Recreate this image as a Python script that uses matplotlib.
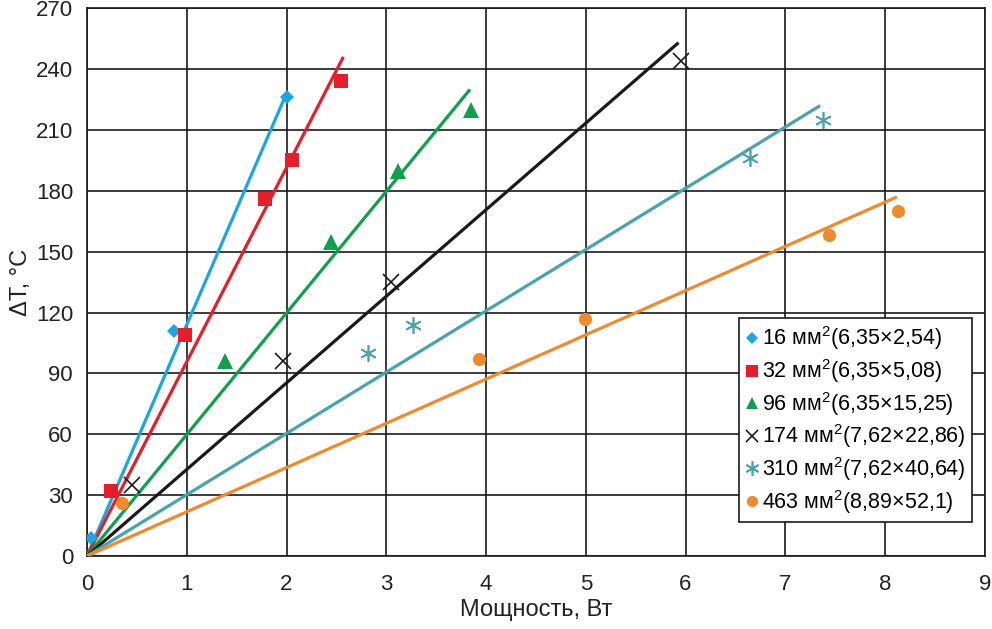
import numpy as np
import matplotlib
matplotlib.use("Agg")
import matplotlib.pyplot as plt

plt.rcParams["font.family"] = ["Liberation Sans", "DejaVu Sans"]
plt.rcParams["mathtext.fontset"] = "custom"
plt.rcParams["mathtext.rm"] = "Liberation Sans"

# -------------------------------------------------
# Data
# -------------------------------------------------
labels = [
    "16 мм$^2$(6,35×2,54)",
    "32 мм$^2$(6,35×5,08)",
    "96 мм$^2$(6,35×15,25)",
    "174 мм$^2$(7,62×22,86)",
    "310 мм$^2$(7,62×40,64)",
    "463 мм$^2$(8,89×52,1)",
]
colors = ["#1aa7e1", "#e41f2b", "#10a04c", "#1a1a1a", "#4aa3aa", "#f08a2e"]
markers = ["D", "s", "^", "x", (6, 2, 0), "o"]
marker_sizes = [7.5, 10.5, 11, 11, 12, 9.5]

p16 = [0.04, 0.87, 2.00]
t16 = [9, 111, 226]
p32 = [0.24, 0.98, 1.78, 2.06, 2.55]
t32 = [32, 109, 176, 195, 234]
p96 = [1.38, 2.45, 3.12, 3.85]
t96 = [96, 155, 190, 220]
p174 = [0.45, 1.96, 3.05, 5.95]
t174 = [35, 96, 135, 244]
p310 = [2.82, 3.27, 6.65, 7.38]
t310 = [100, 114, 196, 215]
p463 = [0.35, 3.93, 4.99, 7.44, 8.13]
t463 = [26, 97, 117, 158, 170]

# fitted lines through the origin: end power and end temperature
line_end_p = [2.00, 2.57, 3.84, 5.93, 7.35, 8.12]
line_end_t = [228, 246, 230, 253, 222, 177]

powers = [p16, p32, p96, p174, p310, p463]
temps = [t16, t32, t96, t174, t310, t463]

# -------------------------------------------------
# Plot
# -------------------------------------------------
fig = plt.figure(figsize=(9.92, 6.29), dpi=100)
ax = fig.add_axes([0.0877, 0.116, 0.905, 0.871])

for i in range(len(labels)):
    ax.plot([0, line_end_p[i]], [0, line_end_t[i]], color=colors[i], lw=2.3,
            solid_capstyle="butt", zorder=3)
    mew = 1.2 if markers[i] == "x" or isinstance(markers[i], tuple) else 0
    ax.plot(powers[i], temps[i], linestyle="none", marker=markers[i],
            color=colors[i], markersize=marker_sizes[i], markeredgewidth=mew,
            label=labels[i], zorder=4)

ax.set_xlim(0, 9)
ax.set_ylim(0, 270)
ax.set_xticks(np.arange(0, 10, 1))
ax.set_yticks(np.arange(0, 271, 30))
ax.grid(True, color="#1a1a1a", lw=1.2)
ax.set_axisbelow(True)
for s in ax.spines.values():
    s.set_color("#1a1a1a")
    s.set_linewidth(1.2)
ax.tick_params(length=0, labelsize=16, colors="#222222")
ax.tick_params(axis="x", pad=13)
ax.tick_params(axis="y", pad=10)

ax.set_xlabel("Мощность, Вт", fontsize=17, color="#222222", labelpad=3)
ax.set_ylabel("ΔT, °C", fontsize=17, color="#222222", labelpad=3)

leg = ax.legend(loc="lower right", bbox_to_anchor=(0.9855, 0.062), fontsize=15.5,
                frameon=True, fancybox=False, handlelength=0.6,
                handletextpad=0.15, borderpad=0.3, labelspacing=0.22,
                borderaxespad=0, markerscale=0.85)
leg.get_frame().set_edgecolor("#1a1a1a")
leg.get_frame().set_linewidth(1.2)
leg.get_frame().set_alpha(1)
leg.set_zorder(5)

fig.savefig("out.png", dpi=100)
